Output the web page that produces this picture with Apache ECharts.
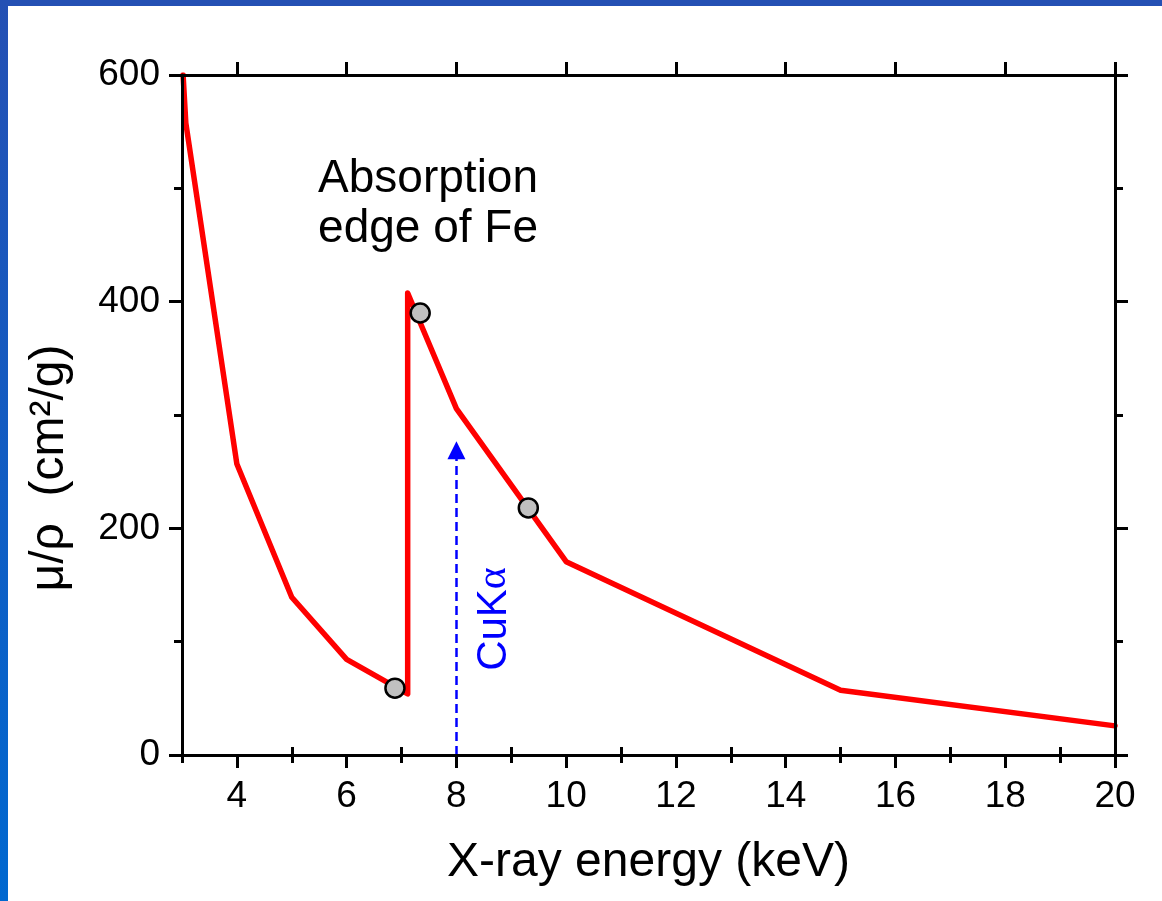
<!DOCTYPE html>
<html>
<head>
<meta charset="utf-8">
<script src="https://cdn.jsdelivr.net/npm/echarts@6/dist/echarts.min.js"></script>
<style>
html,body{margin:0;padding:0;background:#fff;}
#chart{width:1162px;height:901px;}
</style>
</head>
<body>
<div id="chart"></div>
<script>
// X-ray energy (keV) and mass attenuation coefficient of Fe (cm^2/g)
const energy = [3.02, 3.07, 4, 5, 6, 7.112, 7.112, 8, 10, 15, 20];
const muRho  = [600, 557.6, 256.7, 139.2, 84.38, 53.93, 407.6, 305.6, 170.6, 57.08, 25.68];
// highlighted points
const markerEnergy = [6.88, 7.34, 9.31];
const markerMu     = [59, 390, 218];
// CuKα line
const cuKaEnergy = 8.0;
const cuKaArrowTop = 269;
// ticks
const xMajorTicks = [4, 6, 8, 10, 12, 14, 16, 18, 20];
const xMinorTicks = [3, 5, 7, 9, 11, 13, 15, 17, 19];
const yMajorTicks = [0, 200, 400, 600];
const yMinorTicks = [100, 300, 500];

const FONT = "'Liberation Sans', Arial, sans-serif";
const chart = echarts.init(document.getElementById('chart'), null, {renderer: 'canvas'});

function xAx(pos, ticks, len, labels, extra) {
  return Object.assign({
    type: 'value', position: pos, min: 3, max: 20, z: 5,
    axisLine: {show: true, onZero: false, lineStyle: {color: '#000', width: 3}},
    axisTick: {show: true, inside: false, length: len, customValues: ticks, lineStyle: {color: '#000', width: 3}},
    axisLabel: labels ? {show: true, customValues: ticks, margin: 23, color: '#000', fontSize: 37, fontFamily: FONT} : {show: false},
    splitLine: {show: false}
  }, extra || {});
}
function yAx(pos, ticks, len, labels, extra) {
  return Object.assign({
    type: 'value', position: pos, min: 0, max: 600, z: 5,
    axisLine: {show: true, onZero: false, lineStyle: {color: '#000', width: 3}},
    axisTick: {show: true, inside: false, length: len, customValues: ticks, lineStyle: {color: '#000', width: 3}},
    axisLabel: labels ? {show: true, customValues: ticks, margin: 22, color: '#000', fontSize: 37, fontFamily: FONT} : {show: false},
    splitLine: {show: false}
  }, extra || {});
}

const option = {
  backgroundColor: '#ffffff',
  animation: false,
  grid: {left: 182, right: 47, top: 75, bottom: 146, containLabel: false},
  graphic: [
    {type: 'rect', shape: {x: 0, y: 0, width: 1162, height: 6}, style: {fill: '#2450b4'}, z: 100},
    {type: 'rect', shape: {x: 0, y: 0, width: 8, height: 901},
     style: {fill: new echarts.graphic.LinearGradient(0, 0, 0, 1, [
       {offset: 0, color: '#2450b4'}, {offset: 1, color: '#0068d0'}])}, z: 100}
  ],
  xAxis: [
    xAx('bottom', xMajorTicks, 13, true, {
      name: 'X-ray energy (keV)', nameLocation: 'middle', nameGap: 84,
      nameTextStyle: {color: '#000', fontSize: 48, fontFamily: FONT}
    }),
    xAx('bottom', xMinorTicks, 8, false, {axisLine: {show: false}}),
    xAx('top', xMajorTicks, 13, false),
    xAx('top', xMinorTicks, 8, false, {axisLine: {show: false}})
  ],
  yAxis: [
    yAx('left', yMajorTicks, 13, true, {
      name: 'μ/ρ  (cm²/g)', nameLocation: 'middle', nameGap: 108, nameRotate: 90,
      nameTextStyle: {color: '#000', fontSize: 48, fontFamily: FONT, padding: [0, 106, 0, 0]}
    }),
    yAx('left', yMinorTicks, 8, false, {axisLine: {show: false}}),
    yAx('right', yMajorTicks, 13, false),
    yAx('right', yMinorTicks, 8, false, {axisLine: {show: false}})
  ],
  series: [
    {
      name: 'mu', type: 'line', xAxisIndex: 0, yAxisIndex: 0,
      data: energy.map((e, i) => [e, muRho[i]]),
      symbol: 'none', smooth: false, clip: true, z: 2,
      lineStyle: {color: '#ff0000', width: 5.5, join: 'round', cap: 'round'},
      markLine: {
        silent: true, symbol: ['none', 'triangle'], symbolSize: 18,
        itemStyle: {color: '#0000ff', opacity: 1},
        lineStyle: {color: '#0000ff', width: 2.5, type: [9, 5], opacity: 1},
        label: {show: false},
        emphasis: {disabled: true},
        data: [[{coord: [cuKaEnergy, 0]}, {coord: [cuKaEnergy, cuKaArrowTop]}]]
      }
    },
    {
      name: 'markers', type: 'scatter', xAxisIndex: 0, yAxisIndex: 0, z: 4,
      data: markerEnergy.map((e, i) => [e, markerMu[i]]),
      symbol: 'circle', symbolSize: 19,
      itemStyle: {color: '#c0c0c0', borderColor: '#000', borderWidth: 2.5, opacity: 1}
    },
    {
      name: 'texts', type: 'scatter', xAxisIndex: 0, yAxisIndex: 0, z: 4,
      symbolSize: 0, silent: true,
      itemStyle: {opacity: 1, color: '#000'},
      data: [
        {value: [5.48, 486], label: {show: true, position: [0, 0], align: 'left', verticalAlign: 'middle',
          formatter: 'Absorption\nedge of Fe', color: '#000', opacity: 1, fontSize: 46, lineHeight: 50, fontFamily: FONT}},
        {value: [8.69, 120], label: {show: true, position: 'inside', rotate: 90, align: 'center', verticalAlign: 'middle',
          formatter: 'CuK{a|α}', color: '#0000ff', opacity: 1, fontSize: 42, fontFamily: FONT,
          rich: {a: {color: '#0000ff', fontSize: 42, fontFamily: "'Liberation Serif', serif"}}}}
      ]
    }
  ]
};
chart.setOption(option);
</script>
</body>
</html>
